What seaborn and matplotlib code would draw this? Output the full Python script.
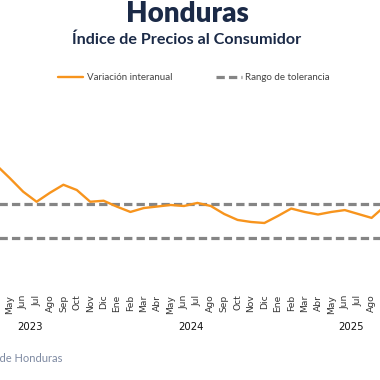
import matplotlib
matplotlib.use("Agg")
import matplotlib.pyplot as plt
import seaborn as sns
import pandas as pd
import numpy as np

# ---------------- data ----------------
month_names = ['Ene', 'Feb', 'Mar', 'Abr', 'May', 'Jun', 'Jul', 'Ago', 'Sep', 'Oct', 'Nov', 'Dic']
years = [2023, 2024, 2025]
start_index = 3  # Abr 2023 (index 0 = Ene 2023)
inflation = [7.3, 6.54, 5.74, 5.15, 5.68, 6.15, 5.84, 5.15, 5.21,
             4.86, 4.55, 4.78, 4.87, 4.96, 4.9, 5.08, 4.9, 4.43, 4.08, 3.96, 3.9,
             4.31, 4.75, 4.55, 4.4, 4.55, 4.66, 4.43, 4.2, 4.9]
tol_upper = 5
tol_lower = 3
title = "Honduras"
subtitle = "Índice de Precios al Consumidor"
series_label = "Variación interanual"
band_label = "Rango de tolerancia"
source = "Fuente: Banco Central de Honduras"

df = pd.DataFrame({
    "idx": np.arange(start_index, start_index + len(inflation)),
    "valor": inflation,
})

sns.set_theme(style="white")
plt.rcParams['font.family'] = ['Lato', 'DejaVu Sans']

W = H = 380
fig = plt.figure(figsize=(3.8, 3.8), dpi=100)

# axes placed in pixel terms (can extend past figure edges)
ax_left_px, ax_right_px = -60, 440
ax_top_px, ax_bot_px = 110, 285
ax = fig.add_axes([ax_left_px / W, 1 - ax_bot_px / H,
                   (ax_right_px - ax_left_px) / W, (ax_bot_px - ax_top_px) / H])

orange = "#F7941D"
gray = "#858585"

ax.axhline(tol_upper, color=gray, lw=2.3, ls=(0, (2.6, 1.3)), label=band_label, zorder=1)
ax.axhline(tol_lower, color=gray, lw=2.3, ls=(0, (2.6, 1.3)), zorder=1)
sns.lineplot(data=df, x="idx", y="valor", ax=ax, color=orange, lw=1.7,
             label=series_label, zorder=3)
for l in ax.lines:
    l.set_solid_joinstyle('round')

# x-scale: month index -> pixel: x = -43.8 + 13.4*i
x0_px, step_px = -43.8, 13.4
ax.set_xlim((ax_left_px - x0_px) / step_px, (ax_right_px - x0_px) / step_px)
# y-scale: 5 at 204.3 px, 17 px per point
def ypx_to_val(y):
    return 5 + (204.3 - y) / 17.0
ax.set_ylim(ypx_to_val(ax_bot_px), ypx_to_val(ax_top_px))

ticks = list(range(start_index, start_index + len(inflation)))
ax.set_xticks(ticks)
ax.set_xticklabels([month_names[i % 12] for i in ticks], rotation=90,
                   fontsize=6.6, color="#333333", family="DejaVu Sans")
ax.tick_params(axis='x', length=0, pad=7)
ax.set_yticks([])
ax.set_xlabel("")
ax.set_ylabel("")
for s in ax.spines.values():
    s.set_visible(False)

trans = ax.get_xaxis_transform()
yr_y = (H - 327 - (H - ax_bot_px)) / (ax_bot_px - ax_top_px)
for k, yv in enumerate(years):
    ax.text(12 * k + 5.5, yr_y, str(yv), transform=trans, ha='center', va='center',
            fontsize=7.3, color="#111111", family="DejaVu Sans")

handles, labels = ax.get_legend_handles_labels()
order = [labels.index(series_label), labels.index(band_label)]
leg = fig.legend([handles[i] for i in order], [labels[i] for i in order],
                 loc='center', bbox_to_anchor=(194 / W, 1 - 78 / H), ncol=2,
                 frameon=False, fontsize=7, handlelength=2.6, handletextpad=0.4,
                 columnspacing=4.5, labelcolor="#444444")
if ax.legend_:
    ax.legend_.remove()

navy = "#1B2A47"
fig.text(187 / W, 1 - 14 / H, title, ha='center', va='center', fontsize=20,
         fontweight='heavy', color=navy)
fig.text(187 / W, 1 - 40 / H, subtitle, ha='center', va='center', fontsize=11.6,
         fontweight='bold', color=navy)
fig.text(62 / W, 1 - 359 / H, source, ha='right', va='center', fontsize=8,
         color="#7E8AA2")

fig.savefig("out.png", dpi=100, facecolor="white")
